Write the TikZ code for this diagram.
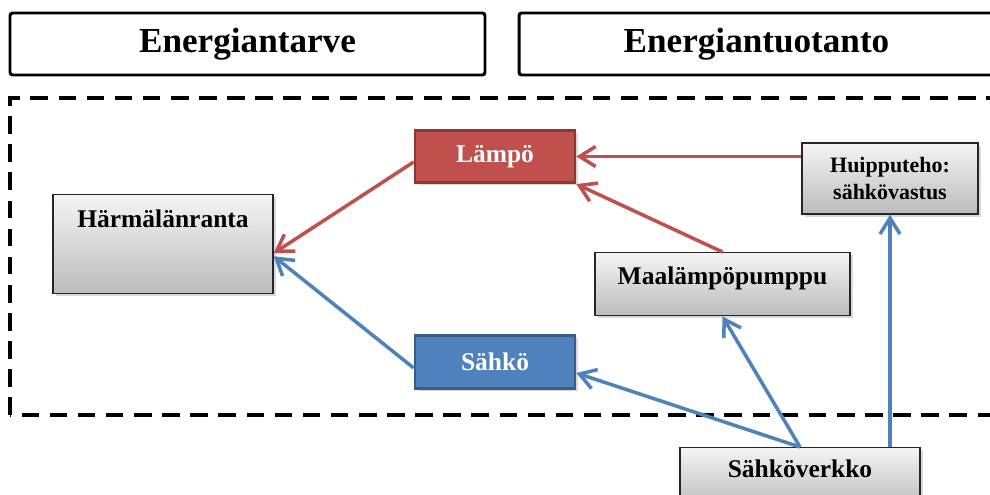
\documentclass[tikz,border=0pt]{standalone}
\usepackage{fontspec}
\setmainfont{Liberation Serif}
\usepackage{xcolor}
\usepackage{tikz}
\usetikzlibrary{arrows.meta, positioning, shadows, calc}
\definecolor{heatred}{HTML}{C0504D}
\definecolor{heatborder}{HTML}{8C3836}
\definecolor{powerblue}{HTML}{4F81BD}
\definecolor{powerborder}{HTML}{385D8A}
\definecolor{boxtop}{HTML}{F4F4F4}
\definecolor{boxbottom}{HTML}{BCBCBC}
\tikzset{
  headbox/.style={
    rectangle, rounded corners=1.5pt,
    minimum width=9.5cm, minimum height=1.24cm,
    draw=black, line width=1.7pt,
    font=\fontsize{20}{24}\selectfont\bfseries
  },
  greynode/.style={
    rectangle, inner sep=0pt, align=center,
    draw=black!85, line width=0.8pt,
    top color=boxtop, bottom color=boxbottom,
    drop shadow={shadow xshift=1.5pt, shadow yshift=-1.5pt, opacity=0.3},
    font=\fontsize{14.5}{17}\selectfont\bfseries
  },
  heatnode/.style={
    rectangle, minimum width=3.2cm, minimum height=1.05cm,
    draw=heatborder, fill=heatred, text=white, line width=1.5pt,
    drop shadow={shadow xshift=1.5pt, shadow yshift=-1.5pt, opacity=0.3},
    font=\fontsize{14.5}{17}\selectfont\bfseries
  },
  powernode/.style={
    heatnode, draw=powerborder, fill=powerblue
  },
  heatarrow/.style={
    -{Straight Barb[length=3.2mm, width=4mm]}, line width=2pt, color=heatred
  },
  powerarrow/.style={
    heatarrow, color=powerblue
  },
  areabox/.style={
    dash pattern=on 10pt off 6pt, line width=2.3pt
  }
}
\begin{document}
\begin{tikzpicture}

  \path[use as bounding box, clip] (0,0) rectangle (19.8,9.9);

  % ── Headers ────────────────────────────────────────────────────────────
  \node[headbox] (tarve)    at (4.95,9.02)  {Energiantarve};
  \node[headbox] (tuotanto) at (15.13,9.02) {Energiantuotanto};

  % dashed area
  \draw[areabox] (0.2,1.6) rectangle (20.3,7.94);

  % ── Demand side ────────────────────────────────────────────────────────
  \node[greynode, minimum width=4.4cm, text height=0.66cm, text depth=1.32cm,
        anchor=north] (harm) at (3.26,6.02) {Härmälänranta};
  \node[heatnode]  (lampo) at (9.9,6.77) {Lämpö};
  \node[powernode] (sahko) at (9.9,2.66) {Sähkö};

  % ── Production side ────────────────────────────────────────────────────
  \node[greynode, minimum width=3.52cm, minimum height=1.42cm,
        font=\fontsize{12.5}{15}\selectfont\bfseries] (huippu) at (17.8,6.33) {Huipputeho:\\sähkövastus};
  \node[greynode, minimum width=5.1cm, text height=0.64cm, text depth=0.62cm,
        anchor=north] (maalampo) at (14.45,4.86) {Maalämpöpumppu};
  \node[greynode, minimum width=4.8cm, text height=0.6cm, text depth=0.6cm,
        anchor=north] (verkko) at (16.0,0.96) {Sähköverkko};

  % arrows — heat
  \draw[heatarrow] ([yshift=-0.11cm]lampo.west) -- ([yshift=-0.18cm]harm.east);
  \draw[heatarrow] (huippu.west |- lampo.east) -- (lampo.east);
  \draw[heatarrow] (maalampo.north) -- (lampo.south east);

  % arrows — electricity
  \draw[powerarrow] ([yshift=-0.12cm]sahko.west) -- ([yshift=-0.24cm]harm.east);
  \draw[powerarrow] (verkko.north) -- ([yshift=-0.22cm]sahko.east);
  \draw[powerarrow] (verkko.north) -- (maalampo.south);
  \draw[powerarrow] (verkko.north -| huippu.south) -- (huippu.south);

\end{tikzpicture}
\end{document}
